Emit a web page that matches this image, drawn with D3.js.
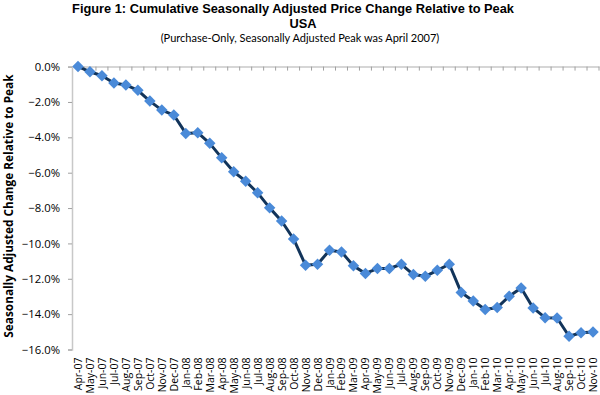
<!DOCTYPE html>
<html>
<head>
<meta charset="utf-8">
<script src="https://cdn.jsdelivr.net/npm/d3@7"></script>
<style>
  body { margin: 0; background: #fff; }
  svg { display: block; }
</style>
</head>
<body>
<div id="chart"></div>
<script>
// months, Apr-07 .. Nov-10
const months = ["Apr-07","May-07","Jun-07","Jul-07","Aug-07","Sep-07","Oct-07","Nov-07","Dec-07",
  "Jan-08","Feb-08","Mar-08","Apr-08","May-08","Jun-08","Jul-08","Aug-08","Sep-08","Oct-08","Nov-08","Dec-08",
  "Jan-09","Feb-09","Mar-09","Apr-09","May-09","Jun-09","Jul-09","Aug-09","Sep-09","Oct-09","Nov-09","Dec-09",
  "Jan-10","Feb-10","Mar-10","Apr-10","May-10","Jun-10","Jul-10","Aug-10","Sep-10","Oct-10","Nov-10"];

// cumulative change relative to peak, percent
const change = [0.0,-0.29,-0.52,-0.93,-1.04,-1.34,-1.95,-2.46,-2.74,
  -3.78,-3.74,-4.34,-5.16,-5.95,-6.48,-7.14,-7.99,-8.73,-9.75,-11.23,-11.18,
  -10.39,-10.48,-11.27,-11.70,-11.42,-11.42,-11.18,-11.76,-11.86,-11.52,-11.18,-12.78,
  -13.26,-13.74,-13.63,-12.99,-12.52,-13.65,-14.20,-14.22,-15.25,-15.05,-15.01];

const yTicks = [0,-2,-4,-6,-8,-10,-12,-14,-16];

const titleLines = ["Figure 1: Cumulative Seasonally Adjusted Price Change Relative to Peak", "USA"];
const subtitle = "(Purchase-Only, Seasonally Adjusted Peak was April 2007)";
const yTitle = "Seasonally Adjusted Change Relative to Peak";

const W = 600, H = 395;
const plot = { left: 72, right: 599, top: 66.6, bottom: 349.5 };

const svg = d3.select("#chart").append("svg")
  .attr("width", W)
  .attr("height", H);

const data = months.map((m, i) => ({ month: m, value: change[i] }));

const x = d3.scaleBand()
  .domain(months)
  .range([plot.left, plot.right]);

const y = d3.scaleLinear()
  .domain([-16, 0])
  .range([plot.bottom, plot.top]);

// titles
svg.append("text")
  .attr("x", 293).attr("y", 13)
  .attr("text-anchor", "middle")
  .style("font-family", "'Liberation Sans', Arial, sans-serif")
  .style("font-weight", "bold")
  .style("font-size", "12.8px")
  .text(titleLines[0]);
svg.append("text")
  .attr("x", 303).attr("y", 28)
  .attr("text-anchor", "middle")
  .style("font-family", "'Liberation Sans', Arial, sans-serif")
  .style("font-weight", "bold")
  .style("font-size", "12.8px")
  .text(titleLines[1]);
svg.append("text")
  .attr("x", 300).attr("y", 42)
  .attr("text-anchor", "middle")
  .style("font-family", "Lato, sans-serif")
  .style("font-size", "11px")
  .text(subtitle);

// y axis
const yAxis = svg.append("g")
  .attr("transform", `translate(${plot.left},0)`)
  .call(d3.axisLeft(y).tickValues(yTicks).tickSize(4).tickPadding(8)
    .tickFormat(d => d3.format(".1f")(d) + "%"));
yAxis.select(".domain").attr("stroke", "#c8c8c8").attr("stroke-width", 1.5);
yAxis.selectAll(".tick line").attr("stroke", "#a0a0a0");
yAxis.selectAll(".tick text")
  .style("font-family", "'Open Sans', sans-serif")
  .style("font-size", "11.3px")
  .attr("fill", "#000");

// x axis sits on the 0% line, labels at the bottom
const xAxis = svg.append("g")
  .attr("transform", `translate(0,${y(0)})`)
  .call(d3.axisBottom(x).tickSize(0).tickFormat(""));
xAxis.select(".domain").attr("stroke", "#c8c8c8").attr("stroke-width", 1.5);
xAxis.selectAll(".tick").remove();

// boundary tick marks between categories
svg.append("g")
  .selectAll("line")
  .data(months)
  .enter()
  .append("line")
    .attr("x1", d => x(d) + x.bandwidth())
    .attr("x2", d => x(d) + x.bandwidth())
    .attr("y1", y(0))
    .attr("y2", y(0) + 4)
    .attr("stroke", "#a0a0a0");

svg.append("g")
  .selectAll("text")
  .data(months)
  .enter()
  .append("text")
    .attr("transform", d => `translate(${x(d) + x.bandwidth() / 2 + 4},${plot.bottom + 8}) rotate(-90)`)
    .attr("text-anchor", "end")
    .style("font-family", "'Open Sans', sans-serif")
    .style("font-size", "10.5px")
    .text(d => d);

// y title
svg.append("text")
  .attr("transform", `translate(13,${(plot.top + plot.bottom) / 2 - 2}) rotate(-90)`)
  .attr("text-anchor", "middle")
  .style("font-family", "'Open Sans', sans-serif")
  .style("font-weight", "bold")
  .style("font-size", "11.8px")
  .text(yTitle);

// line
const line = d3.line()
  .x(d => x(d.month) + x.bandwidth() / 2)
  .y(d => y(d.value));

svg.append("path")
  .datum(data)
  .attr("fill", "none")
  .attr("stroke", "#12345a")
  .attr("stroke-width", 3)
  .attr("stroke-linejoin", "round")
  .attr("d", line);

// diamond markers
const diamond = d3.symbol().type(d3.symbolSquare).size(66);
svg.append("g")
  .selectAll("path")
  .data(data)
  .enter()
  .append("path")
    .attr("d", diamond)
    .attr("transform", d => `translate(${x(d.month) + x.bandwidth() / 2},${y(d.value)}) rotate(45)`)
    .attr("fill", "#4a8ad8");
</script>
</body>
</html>
